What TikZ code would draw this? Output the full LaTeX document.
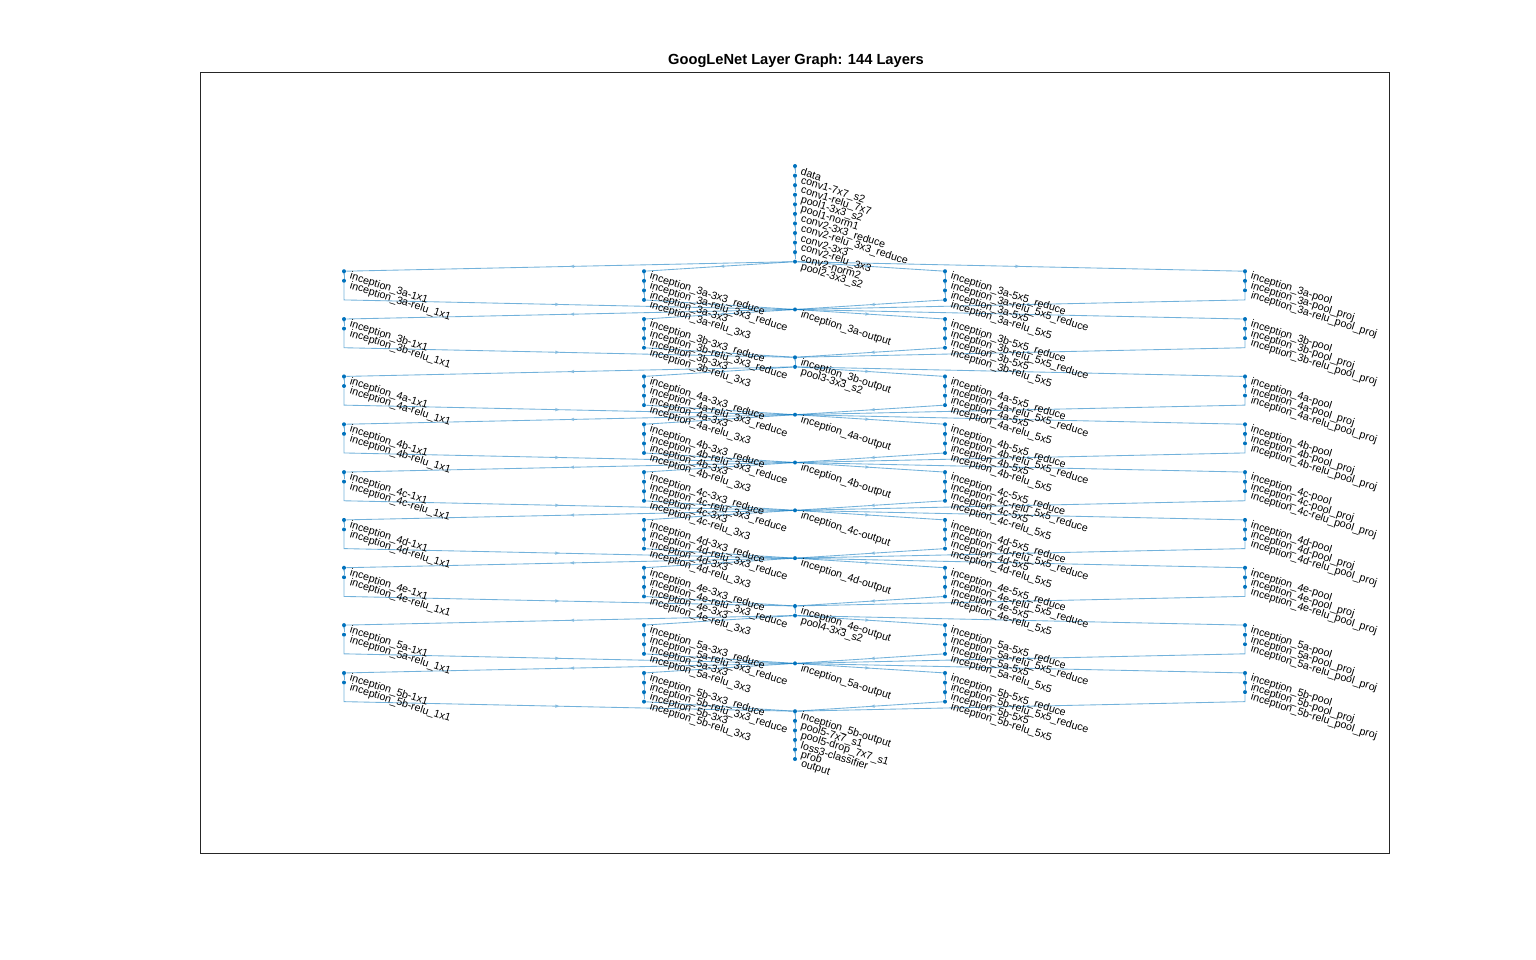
\documentclass[tikz,border=0pt]{standalone}
\usepackage{fontspec}
\setmainfont{Liberation Sans}
\usetikzlibrary{arrows.meta,decorations.markings,backgrounds}
\definecolor{nodecolor}{RGB}{0,114,189}
\definecolor{linkcolor}{RGB}{128,185,222}

% one layer of the net: name, x, rank, label
\newcommand{\netlayer}[4]{%
  \node[lay] (#1) at (#2,{166+9.565*(#3)}) {};
  \node[lbl] at ([shift={(6,5)}]#1.center) {#4};}
% bend point of a long link
\newcommand{\netbend}[3]{\coordinate (#1) at (#2,{166+9.565*(#3)});}

\begin{document}
\begin{tikzpicture}[%
    x=0.75pt, y=-0.75pt,        % one unit is one pixel of the figure
    lay/.style={circle, fill=nodecolor, inner sep=0pt, minimum size=3pt},
    lbl/.style={anchor=west, rotate=-17.5, inner sep=0pt, font=\fontsize{8}{9}\selectfont},
    link/.style={draw=nodecolor, draw opacity=0.55, line width=0.65pt,
      postaction={decorate}, decoration={markings, mark=at position 0.5 with
        {\arrow{Triangle[length=3.5pt,width=2.6pt,color=linkcolor]}}}},
    ]
\useasboundingbox (0,0) rectangle (1536,960);
\draw[black!85, line width=0.5pt] (200,72) rectangle (1389,853);
\node[font=\bfseries\fontsize{11}{13}\selectfont] (title) at (796,61) {GoogLeNet Layer Graph: 144 Layers};

% stem
\foreach \t [count=\r from 0] in {data, conv1-7x7\_s2, conv1-relu\_7x7, pool1-3x3\_s2,
    pool1-norm1, conv2-3x3\_reduce, conv2-relu\_3x3\_reduce, conv2-3x3, conv2-relu\_3x3,
    conv2-norm2, pool2-3x3\_s2}
  \netlayer{s\r}{795}{\r}{\t};
\netlayer{p3}{795}{21}{pool3-3x3\_s2}
\netlayer{p4}{795}{47}{pool4-3x3\_s2}
\netlayer{f1}{795}{58}{pool5-7x7\_s1}
\netlayer{f2}{795}{59}{pool5-drop\_7x7\_s1}
\netlayer{f3}{795}{60}{loss3-classifier}
\netlayer{f4}{795}{61}{prob}
\netlayer{f5}{795}{62}{output}

% inception modules
\foreach \m/\r/\src in {3a/11/s10, 3b/16/o3a, 4a/22/p3, 4b/27/o4a, 4c/32/o4b,
    4d/37/o4c, 4e/42/o4d, 5a/48/p4, 5b/53/o5a} {
  \netlayer{c1\m}{344}{\r}{inception\_\m-1x1}
  \netlayer{r1\m}{344}{\r+1}{inception\_\m-relu\_1x1}
  \netlayer{d3\m}{644}{\r}{inception\_\m-3x3\_reduce}
  \netlayer{rd3\m}{644}{\r+1}{inception\_\m-relu\_3x3\_reduce}
  \netlayer{c3\m}{644}{\r+2}{inception\_\m-3x3}
  \netlayer{r3\m}{644}{\r+3}{inception\_\m-relu\_3x3}
  \netlayer{d5\m}{945}{\r}{inception\_\m-5x5\_reduce}
  \netlayer{rd5\m}{945}{\r+1}{inception\_\m-relu\_5x5\_reduce}
  \netlayer{c5\m}{945}{\r+2}{inception\_\m-5x5}
  \netlayer{r5\m}{945}{\r+3}{inception\_\m-relu\_5x5}
  \netlayer{pl\m}{1245}{\r}{inception\_\m-pool}
  \netlayer{pp\m}{1245}{\r+1}{inception\_\m-pool\_proj}
  \netlayer{rp\m}{1245}{\r+2}{inception\_\m-relu\_pool\_proj}
  \netlayer{o\m}{795}{\r+4}{inception\_\m-output}
  \netbend{ka\m}{344}{\r+2}
  \netbend{kb\m}{344}{\r+3}
  \netbend{kp\m}{1245}{\r+3}
  \begin{scope}[on background layer]
    \foreach \h in {c1,d3,d5,pl} \draw[link] (\src) -- (\h\m);
    \draw[link] (c1\m) -- (r1\m);
    \draw[link] (r1\m) -- (ka\m) -- (kb\m) -- (o\m);
    \draw[link] (d3\m) -- (rd3\m);
    \draw[link] (rd3\m) -- (c3\m);
    \draw[link] (c3\m) -- (r3\m);
    \draw[link] (r3\m) -- (o\m);
    \draw[link] (d5\m) -- (rd5\m);
    \draw[link] (rd5\m) -- (c5\m);
    \draw[link] (c5\m) -- (r5\m);
    \draw[link] (r5\m) -- (o\m);
    \draw[link] (pl\m) -- (pp\m);
    \draw[link] (pp\m) -- (rp\m);
    \draw[link] (rp\m) -- (kp\m) -- (o\m);
  \end{scope}
}

%connect
\begin{scope}[on background layer]
  \foreach \r [count=\q from 0] in {1,...,10} \draw[link] (s\q) -- (s\r);
  \draw[link] (o3b) -- (p3);
  \draw[link] (o4e) -- (p4);
  \draw[link] (o5b) -- (f1);
  \draw[link] (f1) -- (f2);
  \draw[link] (f2) -- (f3);
  \draw[link] (f3) -- (f4);
  \draw[link] (f4) -- (f5);
\end{scope}
\end{tikzpicture}
\end{document}
